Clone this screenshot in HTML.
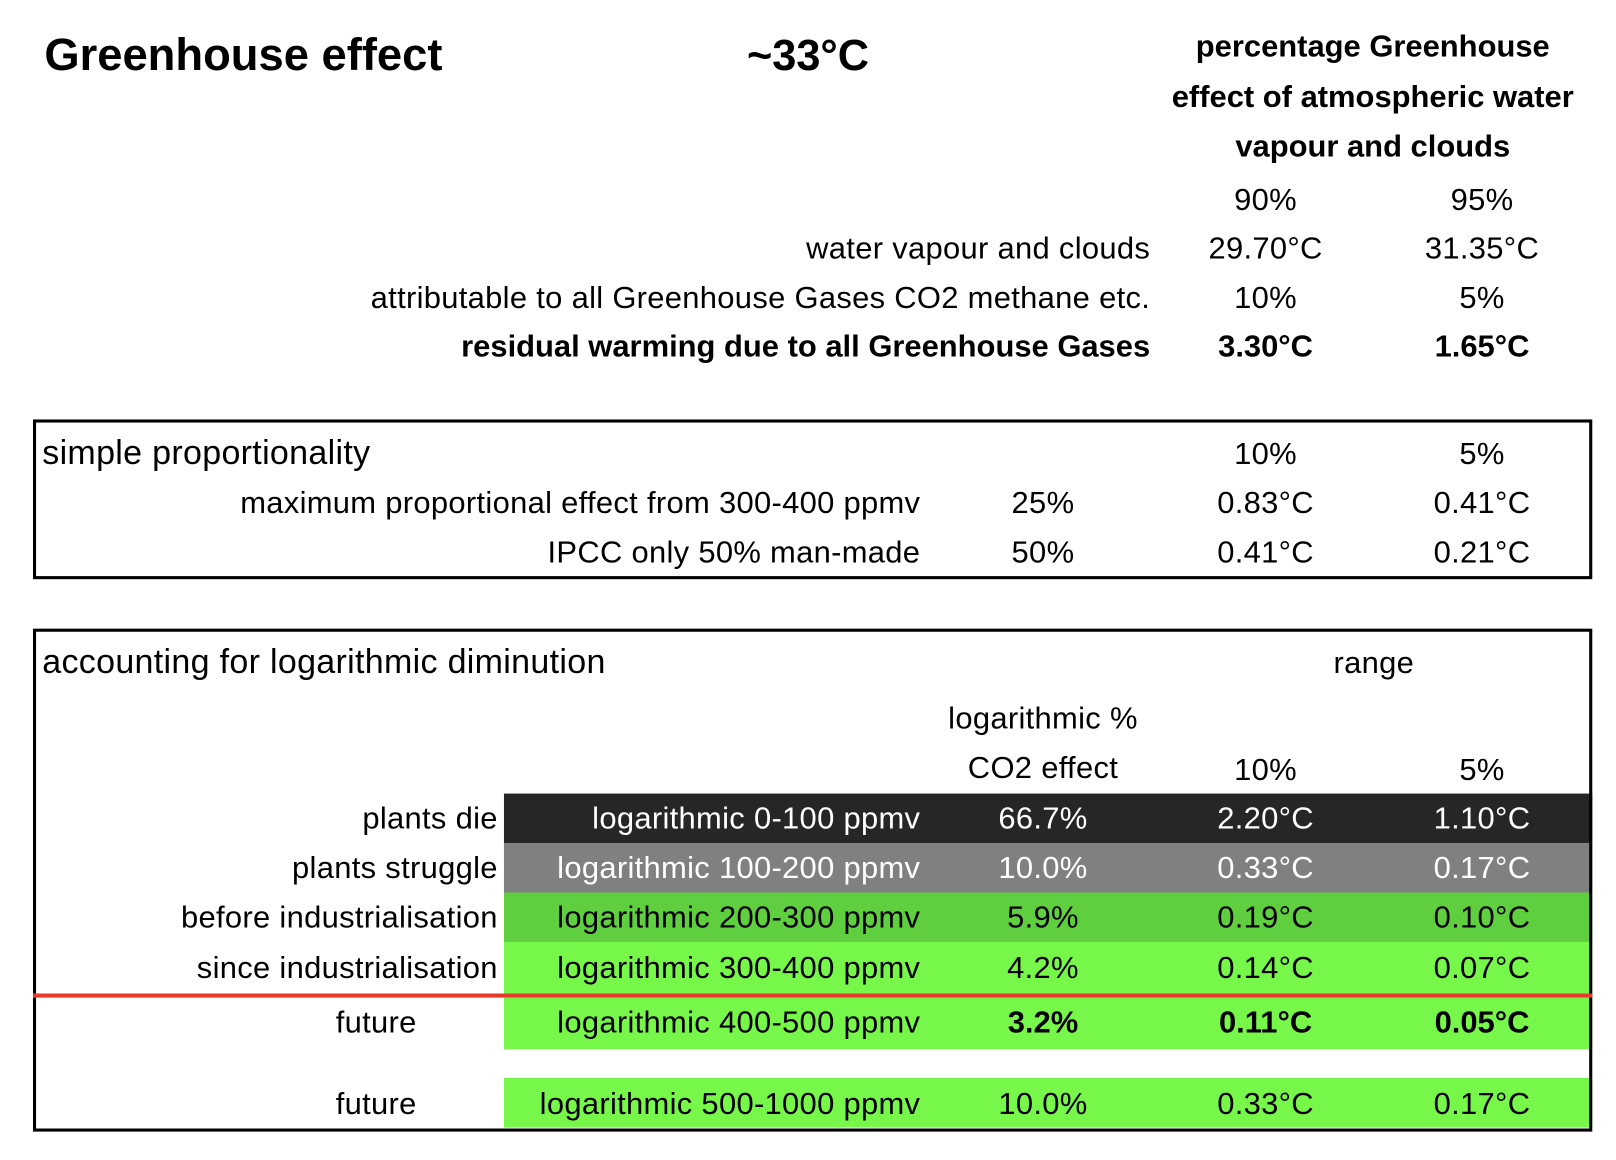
<!DOCTYPE html>
<html><head><meta charset="utf-8">
<style>
html,body{margin:0;padding:0;background:#fff;}
body{width:1616px;height:1160px;overflow:hidden;position:relative;font-family:"Liberation Sans",sans-serif;color:#000;}
#wrap{position:absolute;left:0;top:0;width:1568px;height:1126px;transform:scale(1.0306);transform-origin:0 0;}
.t{position:absolute;white-space:nowrap;font-size:30px;letter-spacing:0.3px;line-height:34px;transform:translateY(-50%);}
.r{transform:translate(-100%,-50%);}
.c{transform:translate(-50%,-50%);}
.b{font-weight:bold;letter-spacing:0;}
.w{color:#fff;}
.box{position:absolute;border:3px solid #000;box-sizing:border-box;}
.band{position:absolute;left:489px;width:1056px;}
</style></head><body>
<div id="wrap">
<div class="t b" style="left:43px;top:54px;font-size:44px;line-height:50px;">Greenhouse effect</div>
<div class="t b c" style="left:784px;top:54px;font-size:42px;line-height:50px;">~33°C</div>
<div class="t b c" style="left:1332px;top:46px;">percentage Greenhouse</div>
<div class="t b c" style="left:1332px;top:95px;">effect of atmospheric water</div>
<div class="t b c" style="left:1332px;top:143px;">vapour and clouds</div>
<div class="t c" style="left:1228px;top:195px;">90%</div>
<div class="t c" style="left:1438px;top:195px;">95%</div>
<div class="t r" style="left:1116px;top:242px;">water vapour and clouds</div>
<div class="t c" style="left:1228px;top:242px;">29.70°C</div>
<div class="t c" style="left:1438px;top:242px;">31.35°C</div>
<div class="t r" style="left:1116px;top:290px;">attributable to all Greenhouse Gases CO2 methane etc.</div>
<div class="t c" style="left:1228px;top:290px;">10%</div>
<div class="t c" style="left:1438px;top:290px;">5%</div>
<div class="t r b" style="left:1116px;top:337px;">residual warming due to all Greenhouse Gases</div>
<div class="t c b" style="left:1228px;top:337px;">3.30°C</div>
<div class="t c b" style="left:1438px;top:337px;">1.65°C</div>

<div class="box" style="left:32px;top:407px;width:1513px;height:155px;"></div>
<div class="t" style="left:41px;top:439px;font-size:33px;">simple proportionality</div>
<div class="t c" style="left:1228px;top:441px;">10%</div>
<div class="t c" style="left:1438px;top:441px;">5%</div>
<div class="t r" style="left:893px;top:489px;">maximum proportional effect from 300-400 ppmv</div>
<div class="t c" style="left:1012px;top:489px;">25%</div>
<div class="t c" style="left:1228px;top:489px;">0.83°C</div>
<div class="t c" style="left:1438px;top:489px;">0.41°C</div>
<div class="t r" style="left:893px;top:537px;">IPCC only 50% man-made</div>
<div class="t c" style="left:1012px;top:537px;">50%</div>
<div class="t c" style="left:1228px;top:537px;">0.41°C</div>
<div class="t c" style="left:1438px;top:537px;">0.21°C</div>

<div class="band" style="top:770px;height:48px;background:#262626;"></div>
<div class="band" style="top:818px;height:48px;background:#808080;"></div>
<div class="band" style="top:866px;height:48px;background:#5fcf3f;"></div>
<div class="band" style="top:914px;height:50px;background:#77f74a;"></div>
<div class="band" style="top:968px;height:50px;background:#77f74a;"></div>
<div class="band" style="top:1046px;height:48px;background:#77f74a;"></div>
<div class="box" style="left:32px;top:610px;width:1513px;height:488px;"></div>
<div style="position:absolute;left:32px;top:964px;width:1513px;height:4px;background:#e8392a;"></div>

<div class="t" style="left:41px;top:642px;font-size:33px;">accounting for logarithmic diminution</div>
<div class="t c" style="left:1333px;top:644px;">range</div>
<div class="t c" style="left:1012px;top:698px;">logarithmic %</div>
<div class="t c" style="left:1012px;top:746px;">CO2 effect</div>
<div class="t c" style="left:1228px;top:748px;">10%</div>
<div class="t c" style="left:1438px;top:748px;">5%</div>

<div class="t r" style="left:483px;top:795px;">plants die</div>
<div class="t r w" style="left:893px;top:795px;">logarithmic 0-100 ppmv</div>
<div class="t c w" style="left:1012px;top:795px;">66.7%</div>
<div class="t c w" style="left:1228px;top:795px;">2.20°C</div>
<div class="t c w" style="left:1438px;top:795px;">1.10°C</div>

<div class="t r" style="left:483px;top:843px;">plants struggle</div>
<div class="t r w" style="left:893px;top:843px;">logarithmic 100-200 ppmv</div>
<div class="t c w" style="left:1012px;top:843px;">10.0%</div>
<div class="t c w" style="left:1228px;top:843px;">0.33°C</div>
<div class="t c w" style="left:1438px;top:843px;">0.17°C</div>

<div class="t r" style="left:483px;top:891px;">before industrialisation</div>
<div class="t r" style="left:893px;top:891px;">logarithmic 200-300 ppmv</div>
<div class="t c" style="left:1012px;top:891px;">5.9%</div>
<div class="t c" style="left:1228px;top:891px;">0.19°C</div>
<div class="t c" style="left:1438px;top:891px;">0.10°C</div>

<div class="t r" style="left:483px;top:940px;">since industrialisation</div>
<div class="t r" style="left:893px;top:940px;">logarithmic 300-400 ppmv</div>
<div class="t c" style="left:1012px;top:940px;">4.2%</div>
<div class="t c" style="left:1228px;top:940px;">0.14°C</div>
<div class="t c" style="left:1438px;top:940px;">0.07°C</div>

<div class="t c" style="left:365px;top:993px;">future</div>
<div class="t r" style="left:893px;top:993px;">logarithmic 400-500 ppmv</div>
<div class="t c b" style="left:1012px;top:993px;">3.2%</div>
<div class="t c b" style="left:1228px;top:993px;">0.11°C</div>
<div class="t c b" style="left:1438px;top:993px;">0.05°C</div>

<div class="t c" style="left:365px;top:1072px;">future</div>
<div class="t r" style="left:893px;top:1072px;">logarithmic 500-1000 ppmv</div>
<div class="t c" style="left:1012px;top:1072px;">10.0%</div>
<div class="t c" style="left:1228px;top:1072px;">0.33°C</div>
<div class="t c" style="left:1438px;top:1072px;">0.17°C</div>
</div>
</body></html>
